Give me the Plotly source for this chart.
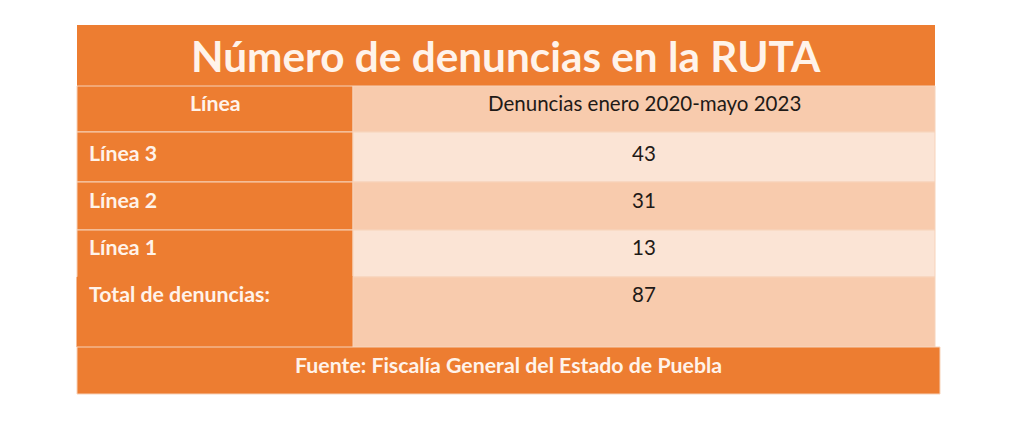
import plotly.graph_objects as go

title = "Número de denuncias en la RUTA"
header_left = "Línea"
header_right = "Denuncias enero 2020-mayo 2023"
lineas = ["Línea 3", "Línea 2", "Línea 1", "Total de denuncias:"]
denuncias = [43, 31, 13, 87]
fuente = "Fuente: Fiscalía General del Estado de Puebla"

ORANGE = "#ED7D31"
PEACH = "#F8CBAD"
LIGHT = "#FBE4D5"
LINE = "#F7D3BA"
CREAM = "#FFF3EA"
FONT = "Lato, 'Open Sans', sans-serif"

# layout geometry (pixels of the page)
X0, XM, X1, XF = 77, 353, 935, 940
title_y = (25, 86)
header_y = (86, 132)
row_y = [(132, 182), (182, 230), (230, 277), (277, 347)]
fuente_y = (347, 394)
text_y = [153, 200, 247, 294]
BODY = 20.5
BOLD = 21.3

fig = go.Figure()
shapes = []
annotations = []

def rect(x0, y0, x1, y1, fill, line=LINE, lw=1):
    shapes.append(dict(type="rect", xref="x", yref="y", x0=x0, x1=x1, y0=y0, y1=y1,
                       fillcolor=fill, line=dict(color=line, width=lw), layer="below"))

def text(x, y, s, size, color, bold=False, anchor="center"):
    annotations.append(dict(x=x, y=y, xref="x", yref="y", text=f"<b>{s}</b>" if bold else s,
                            showarrow=False, xanchor=anchor, yanchor="middle",
                            font=dict(size=size, color=color, family=FONT)))

# title
rect(X0, title_y[0], X1, title_y[1], ORANGE, line=ORANGE, lw=0)
text((X0 + X1) / 2, 55, title, 42.3, CREAM, bold=True)

# header
rect(X0, header_y[0], XM, header_y[1], ORANGE)
rect(XM, header_y[0], X1, header_y[1], PEACH)
text((X0 + XM) / 2, 103, header_left, BOLD, CREAM, bold=True)
text((XM + X1) / 2, 103, header_right, BODY, "#1F1A17")

# body rows
for i, (lab, val) in enumerate(zip(lineas, denuncias)):
    y0, y1 = row_y[i]
    fill = LIGHT if i % 2 == 0 else PEACH
    rect(X0, y0, XM, y1, ORANGE, line=LINE if i < 3 else ORANGE)
    rect(XM, y0, X1, y1, fill)
    text(X0 + 10, text_y[i], lab, BOLD, CREAM, bold=True, anchor="left")
    text((XM + X1) / 2, text_y[i], str(val), BODY, "#1F1A17")

# no separator between Línea 1 and total in the left column
shapes.append(dict(type="line", xref="x", yref="y", x0=X0 + 1, x1=XM - 1, y0=277, y1=277,
                   line=dict(color=ORANGE, width=2)))

# fuente
rect(X0, fuente_y[0], XF, fuente_y[1], ORANGE, line=LINE)
text((X0 + XF) / 2, 365, fuente, BOLD, CREAM, bold=True)

# the page body has an 8px margin: offset the axis ranges so coordinates match page pixels
OFF = 8
fig.update_layout(
    width=1024 - OFF, height=434 - OFF,
    margin=dict(l=0, r=0, t=0, b=0),
    paper_bgcolor="white", plot_bgcolor="white",
    xaxis=dict(range=[OFF, 1024], visible=False, fixedrange=True),
    yaxis=dict(range=[434, OFF], visible=False, fixedrange=True),
    shapes=shapes, annotations=annotations, showlegend=False,
)
fig.write_html("out.html")
